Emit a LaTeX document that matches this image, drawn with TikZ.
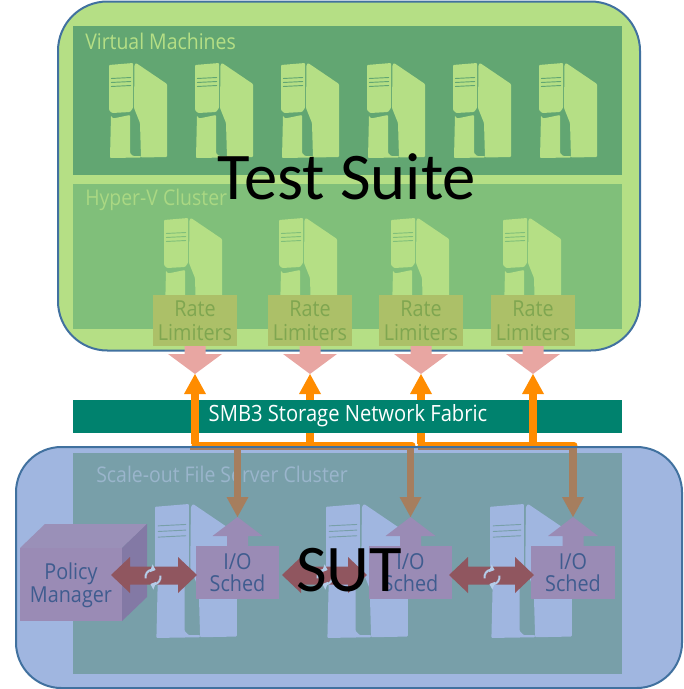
\documentclass[tikz,border=0pt]{standalone}
\usepackage{fontspec}
\setmainfont[FakeStretch=0.9]{Open Sans}
\newfontfamily\bigface{Carlito}
\usetikzlibrary{arrows.meta,calc}
\definecolor{topbg}{HTML}{B5DF85}
\definecolor{vmbg}{HTML}{62A672}
\definecolor{hvbg}{HTML}{80BF7A}
\definecolor{edge}{HTML}{41719F}
\definecolor{botbg}{HTML}{A0B6E0}
\definecolor{filebg}{HTML}{789FA9}
\definecolor{band}{HTML}{00826E}
\definecolor{limiter}{HTML}{ACC068}
\definecolor{limtext}{HTML}{7FA650}
\definecolor{pinkarrow}{HTML}{E8A6A2}
\definecolor{orangearrow}{HTML}{FF8C00}
\definecolor{brownarrow}{HTML}{A67E5E}
\definecolor{purplebox}{HTML}{9A8BB5}
\definecolor{purpleside}{HTML}{8379A5}
\definecolor{purpletop}{HTML}{9A90B8}
\definecolor{schedtext}{HTML}{3F5C8F}
\definecolor{dblarrow}{HTML}{90565F}
\definecolor{synccol}{HTML}{B4CCE8}
\definecolor{clustertext}{HTML}{9AB5CC}
\tikzset{
  x=0.75pt,y=-0.75pt,
  panel/.style={draw=edge,line width=1.5pt,inner sep=0pt,outer sep=0pt,anchor=north west},
  flat/.style={inner sep=0pt,outer sep=0pt,anchor=north west},
  limbox/.style={fill=limiter,text=limtext,inner sep=0pt,outer sep=0pt,minimum width=63pt,minimum height=38.25pt,align=center,font=\fontsize{16.5}{18.2}\selectfont},
  schedbox/.style={fill=purplebox,text=schedtext,inner sep=0pt,outer sep=0pt,minimum width=62.5pt,minimum height=39.75pt,align=center,font=\fontsize{16.5}{17}\selectfont},
  panellabel/.style={inner sep=0pt,anchor=west,font=\fontsize{16.2}{18}\selectfont},
  pics/server/.style n args={2}{code={
    \fill[#1,rounded corners=0.7pt] (0,2)--(24,0)--(24,45)--(21,49)--(3,50)--(0,47)--cycle;
    \fill[#1,rounded corners=0.7pt] (2,52.5)--(4,55.5)--(21,52)--(21,90)--(24,93)--(32,93)--(32,94.5)--(1,95)--cycle;
    \fill[#1,rounded corners=0.7pt] (27,0)--(58,21)--(58,94)--(32,94.5)--(31,60)--(25,45)--(25.5,2)--cycle;
    \draw[#2,line width=0.7pt] (2,15.5)--(22,14.5) (2,19.5)--(22,18.5) (2,23.5)--(22,22.5);
  }},
  pics/sync/.style={code={
    \draw[synccol,line width=1.5pt,-{Triangle[length=3.5pt,width=6pt]}] (170:7.5) arc[start angle=170,end angle=290,radius=7.5];
    \draw[synccol,line width=1.5pt,-{Triangle[length=3.5pt,width=6pt]}] (350:7.5) arc[start angle=350,end angle=470,radius=7.5];
  }},
  pics/dnblock/.style={code={
    \fill[pinkarrow] (-10.5,-28)--(10.5,-28)--(10.5,-20)--(27,-20)--(0,0)--(-27,-20)--(-10.5,-20)--cycle;
  }},
  pics/upblock/.style={code={
    \fill[purplebox] (0,0)--(25,19)--(10.5,19)--(10.5,29)--(-10.5,29)--(-10.5,19)--(-25,19)--cycle;
  }},
  pics/brownhead/.style={code={
    \fill[brownarrow] (0,0)--(-11,-20)--(11,-20)--cycle;
  }},
  pics/orangehead/.style={code={
    \fill[orangearrow] (0,0)--(11,20)--(-11,20)--cycle;
  }},
  pics/twoway/.style n args={1}{code={
    \fill[dblarrow] (0,0)--(19,-18)--(19,-8.5)--({#1-19},-8.5)--({#1-19},-18)--(#1,0)--({#1-19},18)--({#1-19},9.5)--(19,9.5)--(19,18)--cycle;
  }},
}
\begin{document}
\begin{tikzpicture}
\useasboundingbox (0,0) rectangle (683,689);
% top panel
\node[panel,fill=topbg,rounded corners=37pt,minimum width=436.5pt,minimum height=261.75pt] (suite) at (58,1.5) {};
\node[flat,fill=vmbg,minimum width=411.75pt,minimum height=111.75pt] (vm) at (73,26) {};
\node[flat,fill=hvbg,minimum width=411.75pt,minimum height=108.75pt] (hv) at (73,184) {};
\node[panellabel,text=topbg] (vmlabel) at (85,41) {Virtual Machines};
\node[panellabel,text=topbg!80!hvbg] (hvlabel) at (85,200) {Hyper-V Cluster};
\foreach \x in {109,195,281,367,453,539} \pic at (\x,63) {server={topbg}{vmbg}};
\foreach \x in {164,279,391,503} \pic at (\x,218) {server={topbg}{hvbg}};
% rate limiters
\node[limbox] (lim1) at (195,320.5) {Rate\\Limiters};
\node[limbox] (lim2) at (310,320.5) {Rate\\Limiters};
\node[limbox] (lim3) at (421,320.5) {Rate\\Limiters};
\node[limbox] (lim4) at (533,320.5) {Rate\\Limiters};
\foreach \n in {1,2,3,4} {
  \coordinate (tip\n) at ($(lim\n.south)+(0,28)$);
  \pic at (tip\n) {dnblock};
}
% orange bus, behind band and panel
\draw[orangearrow,line width=5.2pt,line cap=round] (195,445.5) coordinate (busa) -- (412,445.5) coordinate (busb);
\draw[orangearrow,line width=5.2pt,line cap=round] (421,445.5) coordinate (busc) -- (574,445.5) coordinate (busd);
% arrows 2 and 3 pass behind the band
\foreach \n in {2,3} {
  \draw[orangearrow,line width=5.5pt] ($(tip\n)+(0,18)$) -- ($(tip\n)+(0,69.5)$);
  \pic at (tip\n) {orangehead};
}
% storage band
\node[flat,fill=band,minimum width=411.75pt,minimum height=24.75pt] (fabric) at (73,400) {};
% arrows 1 and 4 pass over the band
\foreach \n in {1,4} {
  \draw[orangearrow,line width=5.5pt] ($(tip\n)+(0,18)$) -- ($(tip\n)+(0,69.5)$);
  \pic at (tip\n) {orangehead};
}
\node[inner sep=0pt,text=white,font=\fontsize{16.8}{18}\selectfont] (fabriclabel) at (348,416) {SMB3 Storage Network Fabric};
% bottom panel
\node[panel,fill=botbg,rounded corners=34pt,minimum width=499.5pt,minimum height=180.75pt] (sut) at (16,447) {};
\node[flat,fill=filebg,minimum width=411.75pt,minimum height=165.75pt] (files) at (73,453) {};
\node[panellabel,text=clustertext] (fslabel) at (96,474) {Scale-out File Server Cluster};
\foreach \x in {155,326,490} \pic[scale=1.41] at (\x,504) {server={botbg}{filebg}};
% I/O schedulers
\node[schedbox] (sch1) at (237.5,572.5) {I/O\\Sched};
\node[schedbox] (sch2) at (410.5,572.5) {I/O\\Sched};
\node[schedbox] (sch3) at (573,572.5) {I/O\\Sched};
\foreach \n in {1,2,3} {
  \coordinate (stip\n) at ($(sch\n.north)+(0,-29)$);
  \pic at (stip\n) {upblock};
}
% policy manager
\fill[purpletop] (20,548)--(45,524)--(147,524)--(122,548)--cycle;
\fill[purpleside] (122,548)--(147,524)--(147,597)--(122,621)--cycle;
\node[flat,fill=purplebox,minimum width=76.5pt,minimum height=54.75pt] (policy) at (20,548) {};
\node[inner sep=0pt,text=schedtext,align=center,font=\fontsize{16.5}{17}\selectfont] (policylabel) at (71,585) {Policy\\Manager};
% two-way arrows
\coordinate (ln1) at (111,575);
\coordinate (ln2) at (282,575);
\coordinate (ln3) at (449,575);
\pic at (ln1) {twoway={86}};
\pic at (ln2) {twoway={85}};
\pic at (ln3) {twoway={85}};
\pic at (153,577) {sync};
\pic at (325,577) {sync};
\pic at (492,577) {sync};
% brown parts of the bus, seen through the lower panel
\draw[brownarrow,line width=1.2pt] (190,448.8)--(414,448.8) (418,448.8)--(576,448.8);
\foreach \n in {1,2,3} {
  \draw[brownarrow,line width=5.4pt] ($(stip\n)+(0,-69)$) -- ($(stip\n)+(0,-18)$);
  \pic at (stip\n) {brownhead};
}
% big labels
\node[inner sep=0pt,text=black,font=\bigface\fontsize{50}{60}\selectfont] (testsuite) at (347,177) {Test Suite};
\node[inner sep=0pt,text=black,font=\bigface\fontsize{50}{60}\selectfont] (sutlabel) at (349,570) {SUT};
\end{tikzpicture}
\end{document}
